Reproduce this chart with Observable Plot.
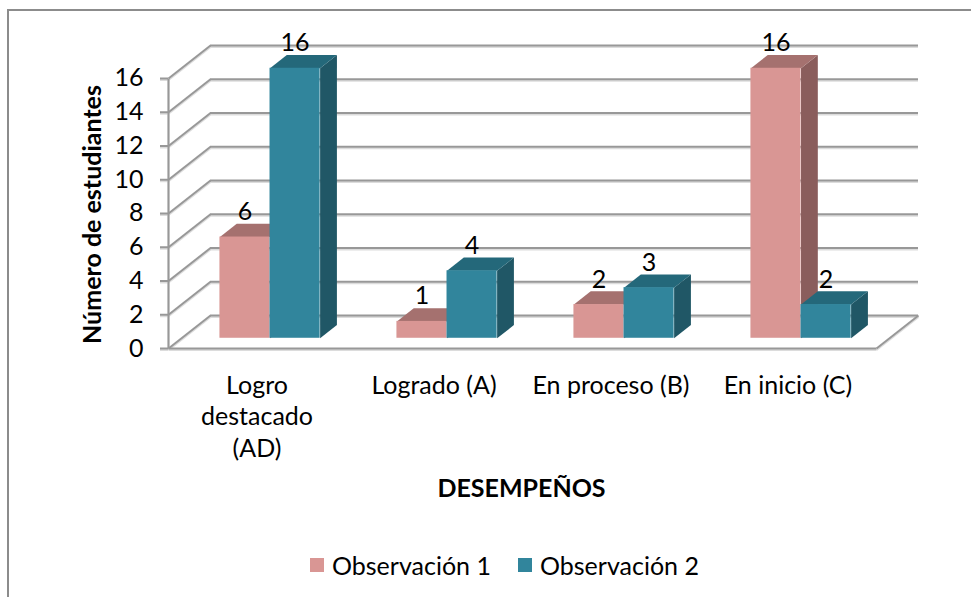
<!DOCTYPE html>
<html>
<head>
<meta charset="utf-8">
<script src="https://cdn.jsdelivr.net/npm/d3@7"></script>
<script src="https://cdn.jsdelivr.net/npm/@observablehq/plot@0.6"></script>
<style>
  html, body { margin: 0; padding: 0; background: #fff; }
  body { width: 971px; height: 597px; overflow: hidden; position: relative; font-family: Lato, "Open Sans", sans-serif; }
  #frame { position: absolute; left: 7px; top: 9px; width: 1000px; height: 700px; border-left: 2px solid #8c8c8c; border-top: 2px solid #8c8c8c; }
  #chart { position: absolute; left: 0; top: 0; }
  .item { position: absolute; top: 550px; display: flex; align-items: center; font-size: 25px; color: #000; white-space: nowrap; }
  .sw { width: 14px; height: 14px; margin-right: 8px; }
</style>
</head>
<body>
<div id="frame"></div>
<div id="chart"></div>
<div id="legend"></div>
<script>
// ---- data ----
const categories = ["Logro destacado (AD)", "Logrado (A)", "En proceso (B)", "En inicio (C)"];
const categoryLabels = ["Logro\ndestacado\n(AD)", "Logrado (A)", "En proceso (B)", "En inicio (C)"];
const seriesNames = ["Observación 1", "Observación 2"];
const obs1 = [6, 1, 2, 16];
const obs2 = [16, 4, 3, 2];
const yTicks = [0, 2, 4, 6, 8, 10, 12, 14, 16];
const xTitle = "DESEMPEÑOS";
const yTitle = "Número de estudiantes";

// ---- style ----
const frontColors = ["#D99694", "#31859C"];
const topColors = ["#A5716F", "#24687A"];
const sideColors = ["#8A5D5C", "#205766"];
const gridColor = "#989898";
const shadowColor = "#dcdcdc";
const FONT = "Lato, 'Open Sans', sans-serif";

// 3D oblique geometry (category units / value units)
const DX = 42 / 177;      // full depth, x shift in category units
const DY = 1.955;         // full depth, y shift in value units
const D_FRONT = 0.31, D_BACK = 0.71;  // bar depth span
const BAR_W = 0.283;
const TICK = 8 / 177;

const values = [obs1, obs2];
const bars = [];
categories.forEach((c, i) => {
  values.forEach((vals, s) => {
    const x1 = i + 0.5 - (s === 0 ? BAR_W : 0);
    bars.push({cat: c, s, value: vals[i], x1, x2: x1 + BAR_W});
  });
});

const tops = [], sides = [];
bars.forEach((b, k) => {
  const v = b.value;
  [[b.x1, D_FRONT], [b.x2, D_FRONT], [b.x2, D_BACK], [b.x1, D_BACK]].forEach(([x, d]) =>
    tops.push({id: k, s: b.s, x: x + d * DX, y: v + d * DY}));
  [[0, D_FRONT], [v, D_FRONT], [v, D_BACK], [0, D_BACK]].forEach(([y, d]) =>
    sides.push({id: k, s: b.s, x: b.x2 + d * DX, y: y + d * DY}));
});

const nCat = categories.length;
const maxY = yTicks[yTicks.length - 1];

function gridMarks(stroke, dy) {
  return [
    Plot.ruleY(yTicks, {y: d => d + DY, x1: DX, x2: nCat + DX, stroke, strokeWidth: 2, dy}),
    Plot.link(yTicks, {x1: 0, y1: d => d, x2: DX, y2: d => d + DY, stroke, strokeWidth: 2, dy}),
    Plot.link([0], {x1: nCat, y1: 0, x2: nCat + DX, y2: DY, stroke, strokeWidth: 2, dy}),
    Plot.link([0], {x1: 0, y1: 0, x2: nCat, y2: 0, stroke, strokeWidth: 2, dy}),
    Plot.link([0], {x1: 0, y1: 0, x2: 0, y2: maxY, stroke, strokeWidth: 2, dy}),
    Plot.ruleY(yTicks, {y: d => d, x1: -TICK, x2: 0, stroke, strokeWidth: 2, dy})
  ];
}

const chart = Plot.plot({
  width: 971,
  height: 520,
  marginLeft: 168,
  marginRight: 53,
  marginTop: 45,
  marginBottom: 172,
  style: {fontFamily: FONT, fontSize: "25px", color: "#000", background: "transparent", overflow: "visible"},
  x: {domain: [0, nCat + DX], axis: null},
  y: {domain: [0, maxY + DY], axis: null},
  marks: [
    ...gridMarks(shadowColor, 1.5),
    ...gridMarks(gridColor, 0),
    Plot.text(yTicks, {x: 0, y: d => d, dx: -25, textAnchor: "end", text: d => String(d), fill: "#000"}),
    // bars: side faces, top faces, front faces
    Plot.line(sides, {x: "x", y: "y", z: "id", fill: d => sideColors[d.s], stroke: "none", curve: "linear"}),
    Plot.line(tops, {x: "x", y: "y", z: "id", fill: d => topColors[d.s], stroke: "none", curve: "linear"}),
    Plot.rect(bars, {
      x1: d => d.x1 + D_FRONT * DX, x2: d => d.x2 + D_FRONT * DX,
      y1: D_FRONT * DY, y2: d => d.value + D_FRONT * DY,
      fill: d => frontColors[d.s], inset: 0
    }),
    // value labels
    Plot.text(bars, {
      x: d => (d.x1 + d.x2) / 2 + D_FRONT * DX,
      y: d => d.value + D_FRONT * DY,
      dy: -25, text: d => String(d.value), fill: "#000"
    }),
    // category labels
    Plot.text(categoryLabels, {x: (d, i) => i + 0.5, y: 0, text: d => d, lineAnchor: "top", dy: 23, lineHeight: 1.26, fill: "#000"}),
    // axis titles
    Plot.text([xTitle], {frameAnchor: "bottom", textAnchor: "middle", lineAnchor: "middle", dx: -22, dy: 140, fontWeight: "bold", fill: "#000"}),
    Plot.text([yTitle], {frameAnchor: "left", textAnchor: "middle", lineAnchor: "middle", rotate: -90, dx: -76, dy: 17.5, fontWeight: "bold", fill: "#000"})
  ]
});
document.getElementById("chart").appendChild(chart);

// legend
const legend = document.getElementById("legend");
const legendX = [310, 518];
seriesNames.forEach((name, s) => {
  const item = document.createElement("div");
  item.className = "item";
  item.style.left = legendX[s] + "px";
  const sw = document.createElement("div");
  sw.className = "sw";
  sw.style.background = frontColors[s];
  const t = document.createElement("span");
  t.textContent = name;
  item.appendChild(sw); item.appendChild(t);
  legend.appendChild(item);
});
</script>
</body>
</html>
